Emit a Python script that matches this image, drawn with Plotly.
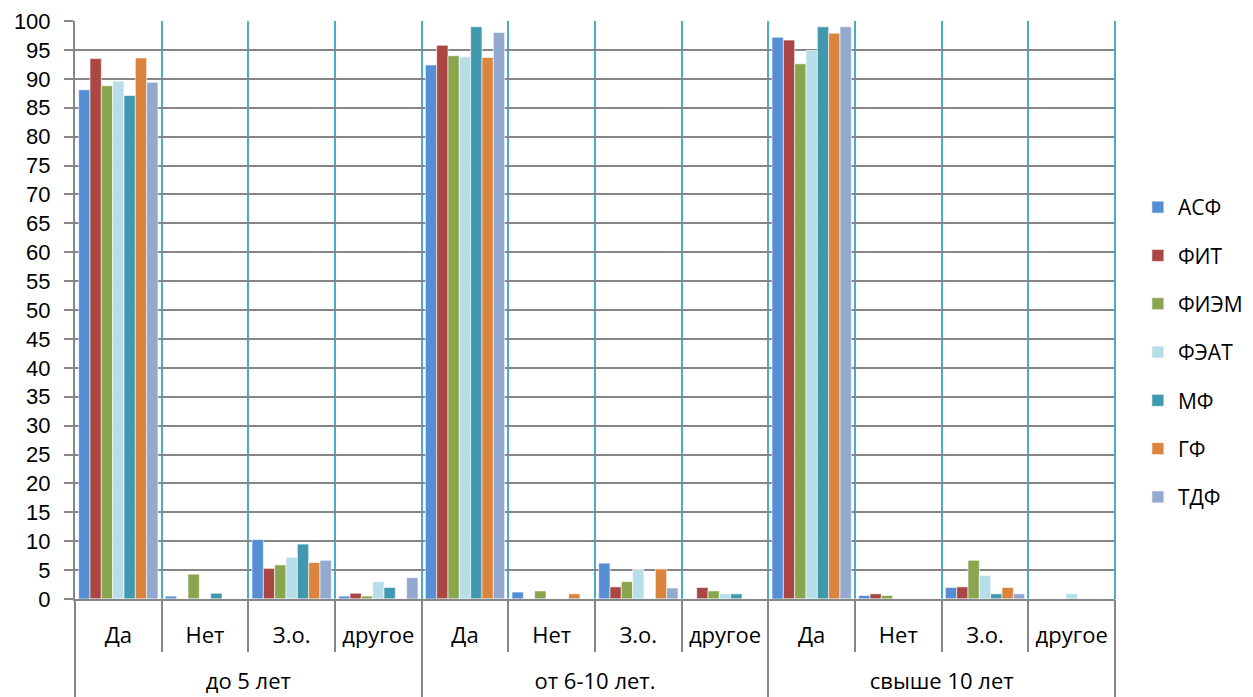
import plotly.graph_objects as go

periods = ["до 5 лет", "от 6-10 лет.", "свыше 10 лет"]
answers = ["Да", "Нет", "З.о.", "другое"]
faculties = ["АСФ", "ФИТ", "ФИЭМ", "ФЭАТ", "МФ", "ГФ", "ТДФ"]

# values per faculty: 3 periods x 4 answers
asf = [88.1, 0.5, 10.3, 0.5, 92.4, 1.2, 6.2, 0, 97.2, 0.6, 2.0, 0]
fit = [93.5, 0, 5.3, 1.0, 95.8, 0, 2.1, 2.0, 96.7, 0.9, 2.1, 0]
fiem = [88.8, 4.3, 5.9, 0.5, 94.0, 1.4, 3.0, 1.4, 92.6, 0.6, 6.7, 0]
feat = [89.6, 0, 7.2, 3.0, 93.8, 0, 5.1, 0.9, 94.9, 0, 4.1, 0.9]
mf = [87.1, 1.0, 9.5, 2.0, 99.0, 0, 0, 0.9, 99.0, 0, 0.9, 0]
gf = [93.6, 0, 6.3, 0, 93.7, 0.9, 5.2, 0, 97.9, 0, 2.0, 0]
tdf = [89.4, 0, 6.7, 3.7, 98.0, 0, 1.9, 0, 99.0, 0, 0.9, 0]

series = [asf, fit, fiem, feat, mf, gf, tdf]
colors = ["#558ED5", "#AA4643", "#89A54E", "#B7DEE8", "#4198AF", "#DB843D", "#93A9CF"]

# one category per (period, answer) pair; inner labels shown as tick text
keys = [p + " | " + a for p in periods for a in answers]
inner = [a for p in periods for a in answers]

fig = go.Figure()
for name, vals, col in zip(faculties, series, colors):
    fig.add_trace(go.Bar(
        x=keys, y=vals, name=name,
        marker=dict(color=col, line=dict(color="rgba(255,255,255,0.6)", width=1)),
        legendgroup=name,
    ))
# invisible trace to set up the outer (period) axis
fig.add_trace(go.Bar(x=periods, y=[0] * len(periods), xaxis="x2", showlegend=False,
                     hoverinfo="skip", marker=dict(color="rgba(0,0,0,0)")))

font = "Open Sans, Liberation Sans, sans-serif"
# page body has an 8px margin, so the figure is a bit smaller than the window
fig.update_layout(
    width=1245, height=689,
    margin=dict(l=67, r=138, t=13, b=98, autoexpand=False),
    plot_bgcolor="white", paper_bgcolor="white",
    barmode="group", bargap=0.085, bargroupgap=0,
    font=dict(family=font, size=22, color="black"),
    legend=dict(x=1.022, y=0.4265, yanchor="middle", xanchor="left",
                tracegroupgap=18, font=dict(size=21)),
    showlegend=True,
    xaxis=dict(
        type="category", categoryorder="array", categoryarray=keys,
        tickvals=keys, ticktext=inner,
        tickson="boundaries", ticks="outside", ticklen=51,
        tickcolor="#868686", tickwidth=2,
        showgrid=True, gridcolor="#4BACC6", gridwidth=2,
        showline=True, linecolor="#868686", linewidth=2,
        ticklabelstandoff=16, automargin=False,
    ),
    xaxis2=dict(
        type="category", categoryorder="array", categoryarray=periods,
        overlaying="x", anchor="y", side="bottom",
        tickson="boundaries", ticks="outside", ticklen=98,
        tickcolor="#868686", tickwidth=2, showgrid=False,
        ticklabelstandoff=67, automargin=False,
    ),
    yaxis=dict(
        range=[0, 100], dtick=5, ticks="outside", ticklen=9, tickcolor="#868686",
        tickwidth=2,
        showgrid=True, gridcolor="#868686", gridwidth=2,
        showline=True, linecolor="#868686", linewidth=2,
        zeroline=False, automargin=False, ticklabelstandoff=9,
        ticklabeloverflow="allow",
        tickfont=dict(family="Liberation Sans, Arial, sans-serif", size=22),
    ),
)
fig.add_shape(type="line", xref="paper", yref="paper", x0=1, x1=1, y0=0, y1=1,
              line=dict(color="#4BACC6", width=2))

fig.write_html("out.html")
